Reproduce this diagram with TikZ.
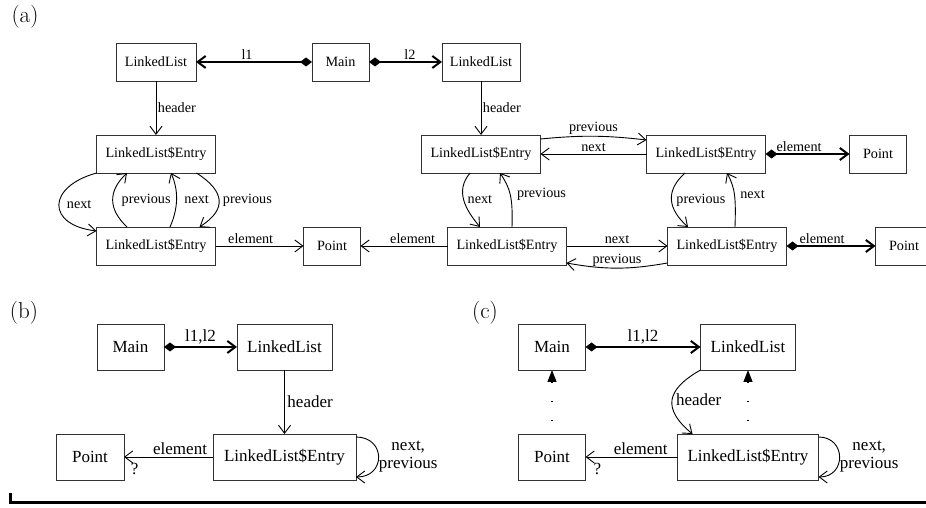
\documentclass[tikz,border=0pt]{standalone}
\usepackage{fontspec}
\newfontfamily\tms{Liberation Serif}
\usetikzlibrary{arrows.meta,positioning}

\begin{document}
\begin{tikzpicture}[
  x=1pt, y=1pt,
  node distance=54pt and 88pt,
  cls/.style={draw=black!80, line width=0.9pt, outer sep=0pt, inner sep=0pt, minimum height=38pt, font=\tms\fontsize{14.2}{16}\selectfont},
  entry/.style={cls, minimum width=119pt},
  pnt/.style={cls, minimum width=57pt},
  clsb/.style={cls, minimum height=46pt, font=\tms\fontsize{17}{18}\selectfont},
  lbl/.style={font=\tms\fontsize{14.2}{16}\selectfont, inner sep=1.5pt},
  lblb/.style={font=\tms\fontsize{17}{18}\selectfont, inner sep=1.5pt, align=center},
  panel/.style={font=\fontsize{23}{25}\selectfont},
  arrow/.style={-{Straight Barb[length=8pt,width=12pt]}, line width=0.9pt},
  comp/.style={{Diamond[length=12pt,width=9pt]}-{Straight Barb[length=8pt,width=12pt]}, line width=2pt},
  dep/.style={-{Triangle[length=12pt,width=9pt]}, line width=1.2pt, dash pattern=on 1.2pt off 17.8pt, dash phase=6pt}
]
\useasboundingbox (0,0) rectangle (926,508);
\clip (0,0) rectangle (926,508);

% (a) two lists sharing points
\node[panel] (pa) at (25,491) {(a)};
\node[cls, minimum width=80pt] (ll1) at (156,446) {LinkedList};
\node[pnt, right=116pt of ll1] (main) {Main};
\node[cls, minimum width=78pt, right=73pt of main] (ll2) {LinkedList};
\node[entry, below=of ll1] (e1) {LinkedList\$Entry};
\node[entry, below=of e1] (e2) {LinkedList\$Entry};
\node[pnt, right=of e2] (pt1) {Point};
\node[entry, below=of ll2] (e3) {LinkedList\$Entry};
\node[entry, right=106pt of e3] (e4) {LinkedList\$Entry};
\node[pnt, right=84pt of e4] (pt2) {Point};
\node[entry, right=87pt of pt1] (e5) {LinkedList\$Entry};
\node[entry, right=101pt of e5] (e6) {LinkedList\$Entry};
\node[pnt, right=89pt of e6] (pt3) {Point};

\draw[comp] (main) -- node[lbl, above, pos=.56] {l1} (ll1);
\draw[comp] (main) -- node[lbl, above, pos=.56] {l2} (ll2);
\draw[arrow] (ll1) -- node[lbl, right] {header} (e1);
\draw[arrow] (ll2) -- node[lbl, right] {header} (e3);

\draw[arrow] (e1.south west) .. controls +(-50,-14) and +(-50,6) .. node[lbl, right=6pt] {next} ([yshift=-4pt]e2.north west);
\draw[arrow] ([xshift=-29pt]e2.north) .. controls +(-19,18) and +(-19,-18) .. node[lbl, right=7pt] {previous} ([xshift=-29pt]e1.south);
\draw[arrow] ([xshift=14pt]e2.north) .. controls +(8,18) and +(8,-18) .. node[lbl, right=6pt] {next} ([xshift=15pt]e1.south);
\draw[arrow] ([xshift=40.5pt]e1.south) .. controls +(28,-18) and +(28,18) .. node[lbl, right=2pt] {previous} ([xshift=43.5pt]e2.north);
\draw[arrow] (e2) -- node[lbl, above, pos=.4] {element} (pt1);

\draw[arrow] ([yshift=15pt]e3.east) to[bend left=6] node[lbl, above] {previous} ([yshift=14pt]e4.west);
\draw[arrow] (e4) -- node[lbl, above] {next} (e3);
\draw[comp] (e4) -- node[lbl, above, pos=.4] {element} (pt2);
\draw[arrow] ([xshift=-11pt]e3.south) .. controls +(-15,-18) and +(-15,18) .. node[lbl, right=2pt] {next} ([xshift=-27pt]e5.north);
\draw[arrow] ([xshift=5pt]e5.north) .. controls +(1,30) and +(10,-15) .. node[lbl, right=5pt] {previous} ([xshift=19pt]e3.south);
\draw[arrow] ([xshift=-21pt]e4.south) .. controls +(-20,-18) and +(-20,18) .. node[lbl, right=3pt] {previous} ([xshift=-39pt]e6.north);
\draw[arrow] ([xshift=8pt]e6.north) .. controls +(1,30) and +(8,-15) .. node[lbl, right=4pt] {next} ([xshift=21pt]e4.south);
\draw[arrow] (e5) -- node[lbl, above] {next} (e6);
\draw[arrow] ([yshift=-17pt]e6.west) to[bend left=10] node[lbl, above] {previous} ([yshift=-17pt]e5.east);
\draw[arrow] (e5) -- node[lbl, above, pos=.4] {element} (pt1);
\draw[comp] (e6) -- node[lbl, above, pos=.4] {element} (pt3);

% (b) summary without ownership
\node[panel] (pb) at (24,195) {(b)};
\node[clsb, minimum width=67pt] (mainb) at (130.5,161) {Main};
\node[clsb, minimum width=95pt, right=73pt of mainb] (llb) {LinkedList};
\node[clsb, minimum width=143pt, below=64pt of llb] (eb) {LinkedList\$Entry};
\node[clsb, minimum width=68pt, left=89pt of eb] (ptb) {Point};

\draw[comp] (mainb) -- node[lblb, above] {l1,l2} (llb);
\draw[arrow] (llb) -- node[lblb, right=1pt] {header} (eb);
\draw[arrow] (eb) -- node[lblb, above, pos=.37] {element} node[lblb, below=4pt, pos=.88] {?} (ptb);
\draw[arrow] ([yshift=20pt]eb.east) .. controls +(30,0) and +(30,0) .. node[lblb, right, inner sep=0pt] {next,\\previous} ([yshift=-20pt]eb.east);

% (c) summary with ownership
\node[panel] (pc) at (485,195) {(c)};
\node[clsb, minimum width=67pt] (mainc) at (552,161) {Main};
\node[clsb, minimum width=95pt, right=115pt of mainc] (llc) {LinkedList};
\node[clsb, minimum width=141pt, below=64pt of llc] (ec) {LinkedList\$Entry};
\node[clsb, minimum width=67pt, left=92pt of ec] (ptc) {Point};

\draw[comp] (mainc) -- node[lblb, above] {l1,l2} (llc);
\draw[arrow] (llc.south west) .. controls +(-35,-20) and +(-30,25) .. node[lblb, right=2pt] {header} ([xshift=-55.5pt]ec.north);
\draw[dep] (ptc) -- (mainc);
\draw[dep] (ec) -- (llc);
\draw[arrow] (ec) -- node[lblb, above, pos=.4] {element} node[lblb, below=4pt, pos=.87] {?} (ptc);
\draw[arrow] ([yshift=20pt]ec.east) .. controls +(28,0) and +(28,0) .. node[lblb, right, inner sep=0pt] {next,\\previous} ([yshift=-20pt]ec.east);

\draw[line width=3pt] (10.5,15) -- (10.5,5) -- (926,5);
\end{tikzpicture}
\end{document}
